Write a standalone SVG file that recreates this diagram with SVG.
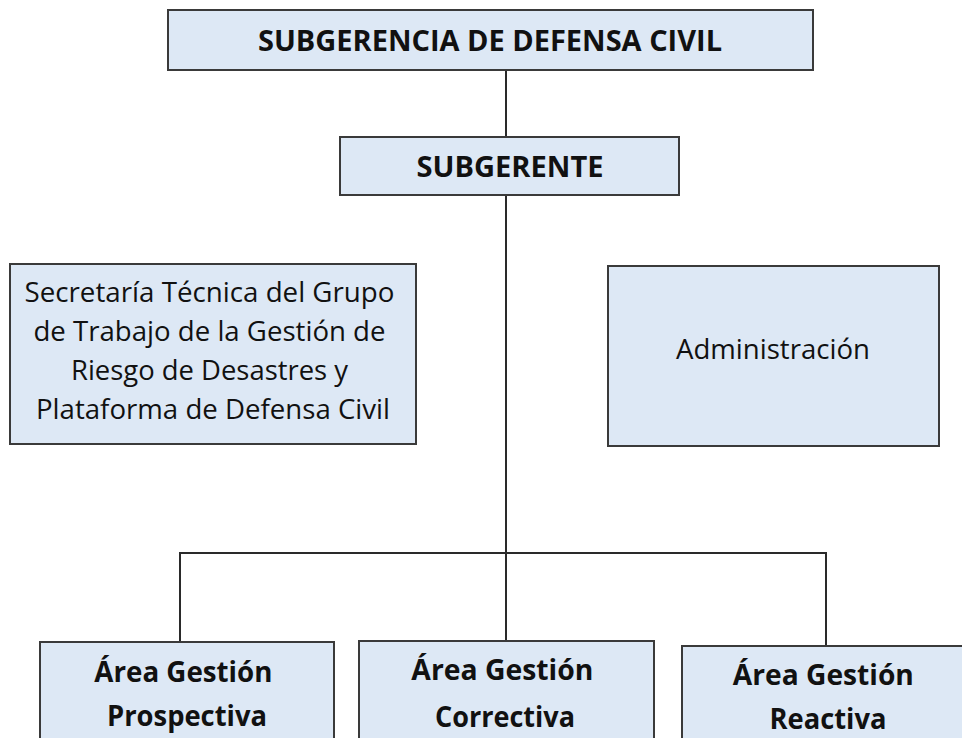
<svg xmlns="http://www.w3.org/2000/svg" width="962" height="738" viewBox="0 0 962 738">
<style>
.box{fill:#dde8f5;stroke:#3a3a3a;stroke-width:2}
.t{font-family:"Open Sans","Liberation Sans",sans-serif;fill:#111;text-anchor:middle}
.b{font-weight:bold}
.conn{fill:none;stroke:#2a2a2a;stroke-width:2}
</style>
<rect width="962" height="738" fill="#fff"/>
<g id="connectors">
<line class="conn" x1="506" y1="70" x2="506" y2="137"/>
<line class="conn" x1="506" y1="195" x2="506" y2="641"/>
<polyline class="conn" points="180,642 180,553 826,553 826,646"/>
</g>
<g id="n-subgerencia">
<rect class="box" x="168" y="10" width="645" height="60"/>
<text class="t b" x="490" y="51" font-size="29" textLength="464" lengthAdjust="spacingAndGlyphs">SUBGERENCIA DE DEFENSA CIVIL</text>
</g>
<g id="n-subgerente">
<rect class="box" x="340" y="137" width="339" height="58"/>
<text class="t b" x="510" y="177" font-size="29" textLength="187" lengthAdjust="spacingAndGlyphs">SUBGERENTE</text>
</g>
<g id="n-secretaria">
<rect class="box" x="10" y="264" width="406" height="180"/>
<text class="t" font-size="27">
<tspan x="213" y="302" textLength="370" lengthAdjust="spacingAndGlyphs">Secretaría Técnica del Grupo</tspan>
<tspan x="213" y="341" textLength="352" lengthAdjust="spacingAndGlyphs">de Trabajo de la Gestión de</tspan>
<tspan x="213" y="380" textLength="277" lengthAdjust="spacingAndGlyphs">Riesgo de Desastres y</tspan>
<tspan x="213" y="419" textLength="354" lengthAdjust="spacingAndGlyphs">Plataforma de Defensa Civil</tspan>
</text>
</g>
<g id="n-administracion">
<rect class="box" x="608" y="266" width="331" height="180"/>
<text class="t" x="773" y="359" font-size="27" textLength="194" lengthAdjust="spacingAndGlyphs">Administración</text>
</g>
<g id="n-prospectiva">
<rect class="box" x="40" y="642" width="294" height="110"/>
<text class="t b" font-size="28">
<tspan x="187" y="682" textLength="178" lengthAdjust="spacingAndGlyphs">Área Gestión</tspan>
<tspan x="187" y="726" textLength="160" lengthAdjust="spacingAndGlyphs">Prospectiva</tspan>
</text>
</g>
<g id="n-correctiva">
<rect class="box" x="359" y="641" width="295" height="110"/>
<text class="t b" font-size="28">
<tspan x="506" y="680" textLength="182" lengthAdjust="spacingAndGlyphs">Área Gestión</tspan>
<tspan x="505" y="727" textLength="140" lengthAdjust="spacingAndGlyphs">Correctiva</tspan>
</text>
</g>
<g id="n-reactiva">
<rect class="box" x="682" y="646" width="300" height="110"/>
<text class="t b" font-size="28">
<tspan x="827" y="685" textLength="181" lengthAdjust="spacingAndGlyphs">Área Gestión</tspan>
<tspan x="828" y="729" textLength="117" lengthAdjust="spacingAndGlyphs">Reactiva</tspan>
</text>
</g>
</svg>
